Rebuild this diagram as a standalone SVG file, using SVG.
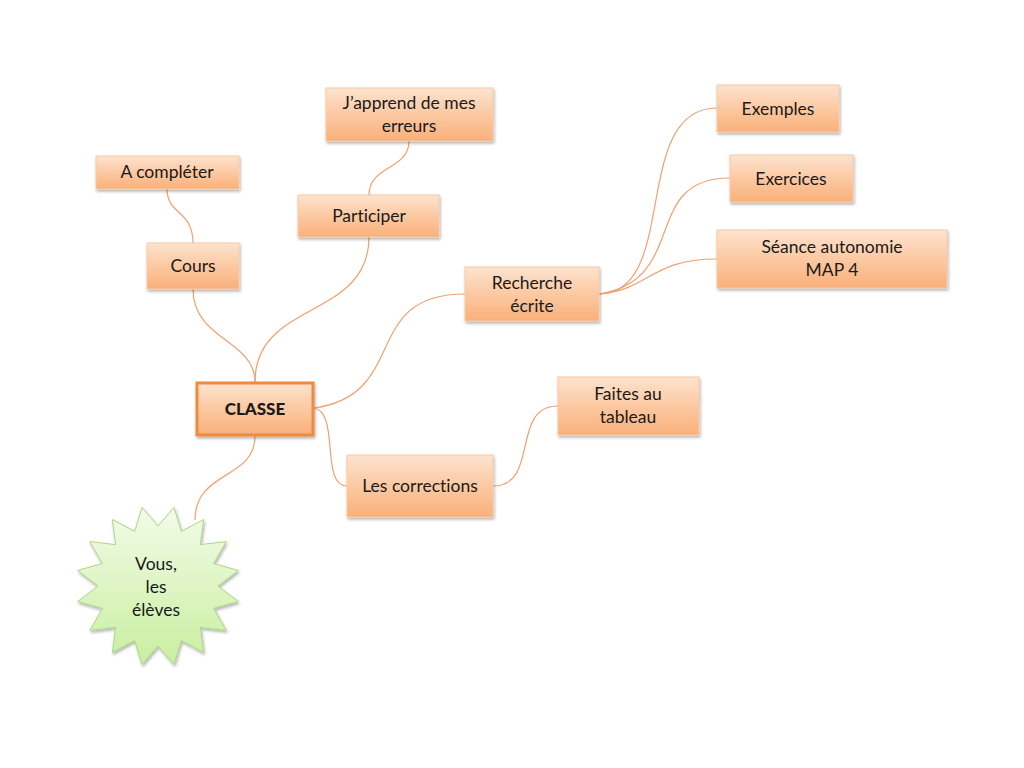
<svg xmlns="http://www.w3.org/2000/svg" width="1024" height="768" viewBox="0 0 1024 768">
<defs>
<linearGradient id="og" x1="0" y1="0" x2="0" y2="1">
<stop offset="0" stop-color="#fde3cf"/>
<stop offset="0.5" stop-color="#fcc9a2"/>
<stop offset="1" stop-color="#f9b07a"/>
</linearGradient>
<linearGradient id="gg" x1="0" y1="0" x2="0" y2="1">
<stop offset="0" stop-color="#f3fbe9"/>
<stop offset="1" stop-color="#c9ef9f"/>
</linearGradient>
<filter id="sh" x="-10%" y="-10%" width="130%" height="140%">
<feDropShadow dx="1" dy="2" stdDeviation="1.5" flood-color="#000" flood-opacity="0.3"/>
</filter>
</defs>
<style>
.box{fill:url(#og);stroke:#f8c9a4;stroke-width:1;filter:url(#sh)}
.main{fill:url(#og);stroke:#f08a3c;stroke-width:3;filter:url(#sh)}
.t{font-family:Lato,"Open Sans","Liberation Sans",sans-serif;font-size:17.5px;fill:#1a1a1a;text-anchor:middle;font-variant-ligatures:none}
.b{font-weight:900;font-size:17px}
.c{fill:none;stroke:#f0a070;stroke-width:1.2}
</style>
<rect width="1024" height="768" fill="#fff"/>
<g id="connectors">
<path class="c" d="M193,289 C193,340 255,340 255,382"/>
<path class="c" d="M369,237 C369,320 255,300 255,382"/>
<path class="c" d="M193,243 C193,210 167,215 167,189"/>
<path class="c" d="M369,195 C369,165 409,170 409,141"/>
<path class="c" d="M314,408 C410,395 360,294 465,294"/>
<path class="c" d="M314,408 C340,412 320,486 347,486"/>
<path class="c" d="M493,486 C540,486 510,406 558,406"/>
<path class="c" d="M599,294 C680,294 630,108 717,108"/>
<path class="c" d="M599,294 C690,280 640,178 730,178"/>
<path class="c" d="M599,294 C650,290 650,259 717,259"/>
<path class="c" d="M255,436 C255,480 195,470 195,520"/>
</g>
<g id="n-acompleter"><rect class="box" x="96" y="156" width="143" height="33"/><text class="t" x="167" y="178">A compléter</text></g>
<g id="n-cours"><rect class="box" x="147" y="243" width="92" height="46"/><text class="t" x="193" y="272">Cours</text></g>
<g id="n-japprend"><rect class="box" x="326" y="88" width="167" height="53"/><text class="t" x="409" y="109">J’apprend de mes</text><text class="t" x="409" y="132">erreurs</text></g>
<g id="n-participer"><rect class="box" x="298" y="195" width="141" height="42"/><text class="t" x="369" y="222">Participer</text></g>
<g id="n-recherche"><rect class="box" x="465" y="267" width="134" height="54"/><text class="t" x="532" y="289">Recherche</text><text class="t" x="532" y="312">écrite</text></g>
<g id="n-exemples"><rect class="box" x="717" y="85" width="122" height="47"/><text class="t" x="778" y="115">Exemples</text></g>
<g id="n-exercices"><rect class="box" x="730" y="155" width="123" height="47"/><text class="t" x="791" y="185">Exercices</text></g>
<g id="n-seance"><rect class="box" x="717" y="230" width="230" height="58"/><text class="t" x="832" y="253">Séance autonomie</text><text class="t" x="832" y="276">MAP 4</text></g>
<g id="n-classe"><rect class="main" x="197" y="383" width="116" height="52"/><text class="t b" x="255" y="415">CLASSE</text></g>
<g id="n-faites"><rect class="box" x="558" y="377" width="141" height="58"/><text class="t" x="628" y="400">Faites au</text><text class="t" x="628" y="423">tableau</text></g>
<g id="n-corrections"><rect class="box" x="347" y="455" width="146" height="62"/><text class="t" x="420" y="492">Les corrections</text></g>
<g id="n-vous">
<polygon fill="url(#gg)" stroke="#a9d883" stroke-width="1" filter="url(#sh)" points="142,507.5 158,526 174,507.5 181.3,531.4 203.6,519.5 200.4,544.6 226.2,541.6 213.6,563.6 238.4,570.4 218,586 238.4,601.6 213.6,608.4 226.2,630.4 200.4,627.4 203.6,652.5 181.3,640.6 174,664.5 158,646 142,664.5 134.7,640.6 112.4,652.5 115.6,627.4 89.8,630.4 102.4,608.4 77.6,601.6 98,586 77.6,570.4 102.4,563.6 89.8,541.6 115.6,544.6 112.4,519.5 134.7,531.4"/>
<text class="t" x="156" y="570">Vous,</text><text class="t" x="156" y="593">les</text><text class="t" x="156" y="616">élèves</text>
</g>
</svg>
